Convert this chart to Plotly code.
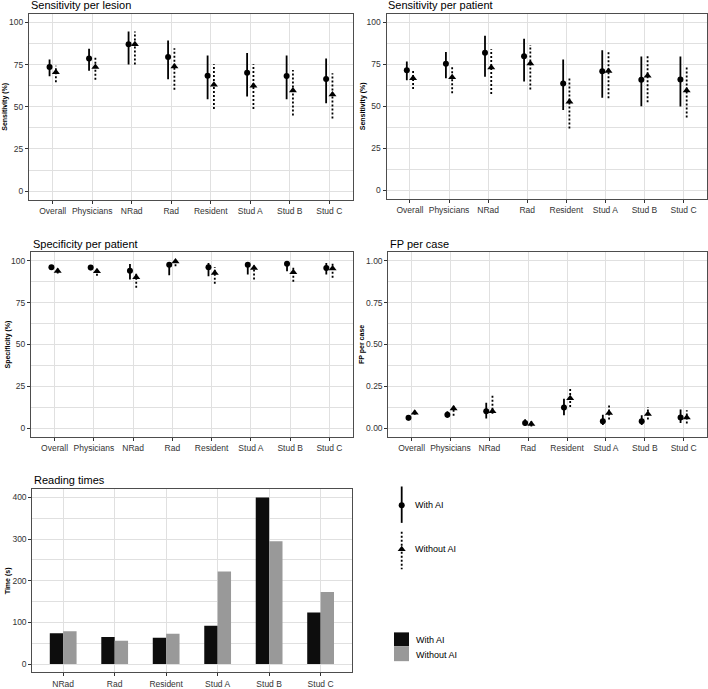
import plotly.graph_objects as go

W, H = 708, 689
FONT = "Liberation Sans, Arial, sans-serif"

groups = ["Overall", "Physicians", "NRad", "Rad", "Resident", "Stud A", "Stud B", "Stud C"]

# Sensitivity per lesion (%)
sl_ai = [73.5, 78.6, 87.0, 79.5, 68.4, 70.2, 68.2, 66.5]
sl_ai_lo = [68.0, 71.3, 75.0, 66.3, 54.4, 56.1, 54.4, 52.0]
sl_ai_hi = [78.0, 84.4, 94.5, 89.3, 80.3, 81.9, 80.3, 78.6]
sl_no = [70.4, 73.5, 87.0, 73.9, 63.0, 62.4, 59.6, 57.3]
sl_no_lo = [64.5, 66.0, 75.0, 60.0, 48.7, 48.7, 44.8, 43.0]
sl_no_hi = [74.3, 80.0, 94.5, 84.6, 75.2, 75.2, 71.7, 69.8]

# Sensitivity per patient (%)
sp_ai = [71.4, 75.3, 81.8, 79.8, 63.5, 70.8, 65.7, 65.9]
sp_ai_lo = [65.5, 66.7, 67.5, 64.7, 47.8, 55.1, 50.0, 49.8]
sp_ai_hi = [76.7, 82.3, 92.0, 90.2, 77.8, 83.3, 79.6, 79.6]
sp_no = [66.7, 67.3, 73.1, 75.5, 52.7, 71.0, 68.2, 59.4]
sp_no_lo = [60.2, 57.8, 57.3, 60.0, 36.7, 54.7, 52.4, 43.3]
sp_no_hi = [72.2, 73.9, 83.9, 86.5, 67.6, 83.3, 81.0, 73.7]

# Specificity per patient (%)
spec_ai = [96.0, 95.8, 94.0, 97.5, 96.0, 97.5, 98.1, 95.6]
spec_ai_lo = [95.1, 94.2, 88.7, 91.3, 90.7, 91.7, 93.6, 91.7]
spec_ai_hi = [96.7, 97.2, 97.9, 98.9, 98.5, 98.7, 99.5, 98.5]
spec_no = [93.8, 93.6, 90.1, 99.5, 92.6, 95.6, 93.0, 95.2]
spec_no_lo = [92.3, 90.9, 83.8, 96.6, 86.2, 88.7, 87.4, 89.7]
spec_no_hi = [95.2, 95.6, 93.2, 100.0, 96.2, 98.1, 96.6, 98.1]

# FP per case
fp_ai = [0.063, 0.082, 0.102, 0.033, 0.124, 0.043, 0.043, 0.065]
fp_ai_lo = [0.047, 0.063, 0.059, 0.016, 0.078, 0.020, 0.020, 0.033]
fp_ai_hi = [0.078, 0.102, 0.153, 0.055, 0.177, 0.082, 0.078, 0.112]
fp_no = [0.094, 0.118, 0.102, 0.027, 0.179, 0.092, 0.086, 0.065]
fp_no_lo = [0.082, 0.075, 0.088, 0.012, 0.128, 0.053, 0.053, 0.029]
fp_no_hi = [0.108, 0.137, 0.206, 0.043, 0.235, 0.147, 0.128, 0.108]

# Reading times (s)
time_groups = ["NRad", "Rad", "Resident", "Stud A", "Stud B", "Stud C"]
time_ai = [74, 65, 63, 92, 400, 124]
time_no = [79, 56, 73, 222, 295, 173]

DODGE = 0.08
GRID = "#e0e0e0"
BORDER = "#4d4d4d"
TICKC = "#333333"
MS_C, MS_T = 6, 7


def px_x(a, b):
    return [a / W, b / W]


def px_y(top, bottom):
    return [1 - bottom / H, 1 - top / H]


panels = [
    dict(n=1, title="Sensitivity per lesion", ytitle="Sensitivity (%)",
         dx=px_x(29, 353), dy=px_y(14, 201), yr=[-5, 105], dt=25, mdt=12.5, fmt=None,
         ai=(sl_ai, sl_ai_lo, sl_ai_hi), no=(sl_no, sl_no_lo, sl_no_hi), tx=29, ytx=5),
    dict(n=2, title="Sensitivity per patient", ytitle="Sensitivity (%)",
         dx=px_x(386.5, 707), dy=px_y(14, 200), yr=[-5, 105], dt=25, mdt=12.5, fmt=None,
         ai=(sp_ai, sp_ai_lo, sp_ai_hi), no=(sp_no, sp_no_lo, sp_no_hi), tx=386.5, ytx=363),
    dict(n=3, title="Specificity per patient", ytitle="Specificity (%)",
         dx=px_x(31, 353), dy=px_y(254, 440), yr=[-5, 105], dt=25, mdt=12.5, fmt=None,
         ai=(spec_ai, spec_ai_lo, spec_ai_hi), no=(spec_no, spec_no_lo, spec_no_hi), tx=31, ytx=8),
    dict(n=4, title="FP per case", ytitle="FP per case",
         dx=px_x(388.3, 707), dy=px_y(254, 440), yr=[-0.05, 1.05], dt=0.25, mdt=0.125, fmt=".2f",
         ai=(fp_ai, fp_ai_lo, fp_ai_hi), no=(fp_no, fp_no_lo, fp_no_hi), tx=388.3, ytx=362.5),
]

fig = go.Figure()
annotations = []
layout = {}


def seg_xy(xs, lo, hi):
    X, Y = [], []
    for x, l, h in zip(xs, lo, hi):
        X += [x, x, None]
        Y += [l, h, None]
    return X, Y


for p in panels:
    n = p["n"]
    xa, ya = f"x{n}", f"y{n}"
    idx = list(range(1, len(groups) + 1))
    x_ai = [i - DODGE for i in idx]
    x_no = [i + DODGE for i in idx]
    X, Y = seg_xy(x_ai, p["ai"][1], p["ai"][2])
    fig.add_trace(go.Scatter(x=X, y=Y, mode="lines", xaxis=xa, yaxis=ya, showlegend=False,
                             line=dict(color="black", width=1.8), hoverinfo="skip"))
    X, Y = seg_xy(x_no, p["no"][1], p["no"][2])
    fig.add_trace(go.Scatter(x=X, y=Y, mode="lines", xaxis=xa, yaxis=ya, showlegend=False,
                             line=dict(color="black", width=1.8, dash="2px,2px"), hoverinfo="skip"))
    fig.add_trace(go.Scatter(x=x_ai, y=p["ai"][0], mode="markers", xaxis=xa, yaxis=ya,
                             name="With AI", showlegend=False,
                             marker=dict(symbol="circle", size=MS_C, color="black")))
    fig.add_trace(go.Scatter(x=x_no, y=p["no"][0], mode="markers", xaxis=xa, yaxis=ya,
                             name="Without AI", showlegend=False,
                             marker=dict(symbol="triangle-up", size=MS_T, color="black")))
    sfx = "" if n == 1 else str(n)
    layout["xaxis" + sfx] = dict(
        domain=p["dx"], anchor=ya, range=[0.4, 8.6], tickvals=idx, ticktext=groups,
        showgrid=True, gridcolor=GRID, gridwidth=1, zeroline=False,
        showline=True, mirror=True, linecolor=BORDER, linewidth=1,
        ticks="outside", ticklen=3, tickcolor=TICKC, tickfont=dict(size=8.5, color=TICKC, family=FONT),
        fixedrange=True)
    ya_d = dict(
        domain=p["dy"], anchor=xa, range=p["yr"], dtick=p["dt"], tick0=0,
        showgrid=True, gridcolor=GRID, gridwidth=1, zeroline=False,
        minor=dict(dtick=p["mdt"], tick0=0, showgrid=True, gridcolor=GRID, gridwidth=0.5),
        showline=True, mirror=True, linecolor=BORDER, linewidth=1,
        ticks="outside", ticklen=3, tickcolor=TICKC, tickfont=dict(size=8.5, color=TICKC, family=FONT),
        fixedrange=True)
    if p["fmt"]:
        ya_d["tickformat"] = p["fmt"]
    layout["yaxis" + sfx] = ya_d
    top_px = (1 - p["dy"][1]) * H
    annotations.append(dict(text=p["title"], xref="paper", yref="paper",
                            x=p["tx"] / W, y=1 - (top_px - 8.5) / H, xanchor="left", yanchor="middle",
                            showarrow=False, font=dict(size=11, color="black", family=FONT)))
    annotations.append(dict(text="<b>" + p["ytitle"] + "</b>", xref="paper", yref="paper",
                            x=p["ytx"] / W, y=(p["dy"][0] + p["dy"][1]) / 2, textangle=-90,
                            xanchor="center", yanchor="middle", showarrow=False,
                            font=dict(size=7, color="black", family=FONT)))

# Reading times bar panel
fig.add_trace(go.Bar(x=time_groups, y=time_ai, name="With AI", xaxis="x5", yaxis="y5",
                     marker=dict(color="#0d0d0d", line=dict(width=0)), showlegend=False))
fig.add_trace(go.Bar(x=time_groups, y=time_no, name="Without AI", xaxis="x5", yaxis="y5",
                     marker=dict(color="#999999", line=dict(width=0)), showlegend=False))
dx5, dy5 = px_x(32.3, 351.5), px_y(492.7, 677.3)
layout["xaxis5"] = dict(domain=dx5, anchor="y5", range=[-0.6, len(time_groups) - 0.4],
                        showgrid=True, gridcolor=GRID, gridwidth=1, zeroline=False,
                        showline=True, mirror=True, linecolor=BORDER, linewidth=1,
                        ticks="outside", ticklen=3, tickcolor=TICKC,
                        tickfont=dict(size=8.5, color=TICKC, family=FONT), fixedrange=True)
layout["yaxis5"] = dict(domain=dy5, anchor="x5", range=[-20, 420], dtick=100, tick0=0,
                        showgrid=True, gridcolor=GRID, gridwidth=1, zeroline=False,
                        minor=dict(dtick=50, tick0=0, showgrid=True, gridcolor=GRID, gridwidth=0.5),
                        showline=True, mirror=True, linecolor=BORDER, linewidth=1,
                        ticks="outside", ticklen=3, tickcolor=TICKC,
                        tickfont=dict(size=8.5, color=TICKC, family=FONT), fixedrange=True)
annotations.append(dict(text="Reading times", xref="paper", yref="paper", x=31.7 / W, y=1 - 484 / H,
                        xanchor="left", yanchor="middle", showarrow=False,
                        font=dict(size=11, color="black", family=FONT)))
annotations.append(dict(text="<b>Time (s)</b>", xref="paper", yref="paper", x=7.5 / W,
                        y=(dy5[0] + dy5[1]) / 2, textangle=-90, xanchor="center", yanchor="middle",
                        showarrow=False, font=dict(size=7, color="black", family=FONT)))

# Legend area drawn in a hidden overlay axis (pixel-like coordinates)
LX0, LX1, LY0, LY1 = 380, 480, 485, 672
layout["xaxis6"] = dict(domain=px_x(LX0, LX1), anchor="y6", range=[LX0, LX1], visible=False, fixedrange=True)
layout["yaxis6"] = dict(domain=px_y(LY0, LY1), anchor="x6", range=[LY1, LY0], visible=False, fixedrange=True)
fig.add_trace(go.Scatter(x=[401.7, 401.7], y=[490, 526.7], mode="lines", xaxis="x6", yaxis="y6",
                         line=dict(color="black", width=1.8), showlegend=False, hoverinfo="skip"))
fig.add_trace(go.Scatter(x=[401.7], y=[509], mode="markers", xaxis="x6", yaxis="y6",
                         marker=dict(symbol="circle", size=MS_C, color="black"), showlegend=False, hoverinfo="skip"))
fig.add_trace(go.Scatter(x=[401.7, 401.7], y=[535.7, 573.3], mode="lines", xaxis="x6", yaxis="y6",
                         line=dict(color="black", width=1.8, dash="2px,2px"), showlegend=False, hoverinfo="skip"))
fig.add_trace(go.Scatter(x=[401.7], y=[553.3], mode="markers", xaxis="x6", yaxis="y6",
                         marker=dict(symbol="triangle-up", size=MS_T, color="black"), showlegend=False, hoverinfo="skip"))
leg_font = dict(size=9, color="black", family=FONT)
for txt, yy, xx in [("With AI", 509, 412.7), ("Without AI", 553.3, 412.7),
                    ("With AI", 645, 414.3), ("Without AI", 660, 414.3)]:
    annotations.append(dict(text=txt, xref="x6", yref="y6", x=xx, y=yy, xanchor="left", yanchor="middle",
                            showarrow=False, font=leg_font))
shapes = [
    dict(type="rect", xref="x6", yref="y6", x0=394, x1=409, y0=637, y1=651,
         fillcolor="#0d0d0d", line=dict(width=0)),
    dict(type="rect", xref="x6", yref="y6", x0=394, x1=409, y0=651, y1=666,
         fillcolor="#999999", line=dict(width=0)),
]

fig.update_layout(
    width=W, height=H, margin=dict(l=0, r=0, t=0, b=0),
    paper_bgcolor="white", plot_bgcolor="white",
    barmode="group", bargap=0.48, bargroupgap=0,
    annotations=annotations, shapes=shapes, showlegend=False,
    font=dict(family=FONT, color="black"),
    **layout,
)

fig.write_html("out.html", config={"displayModeBar": False},
               post_script="document.body.style.margin='0';document.body.style.overflow='hidden';")
